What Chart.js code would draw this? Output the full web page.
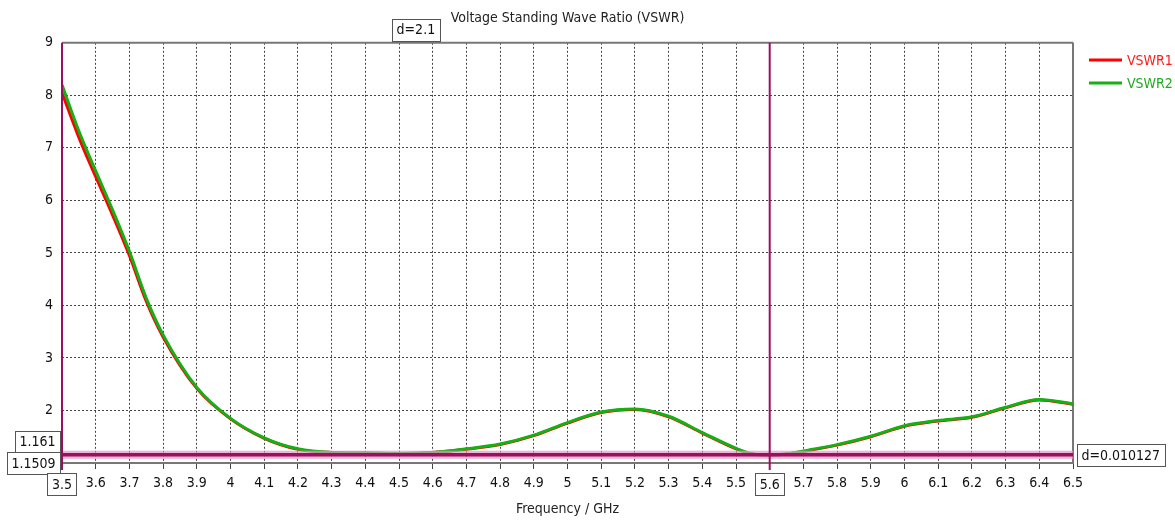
<!DOCTYPE html>
<html>
<head>
<meta charset="utf-8">
<script src="https://cdn.jsdelivr.net/npm/chart.js@4.4.0/dist/chart.umd.min.js"></script>
<style>
  html, body { margin: 0; padding: 0; background: #fff; }
  #wrap { width: 1175px; height: 522px; }
</style>
</head>
<body>
<div id="wrap"><canvas id="vswr"></canvas></div>
<script>
// ===== data =====
const freqs = [3.5, 3.55, 3.6, 3.65, 3.7, 3.75, 3.8, 3.9, 4.0, 4.1, 4.2, 4.3, 4.4, 4.5, 4.6, 4.7, 4.8, 4.9,
  5.0, 5.1, 5.2, 5.3, 5.4, 5.5, 5.55, 5.6, 5.65, 5.7, 5.8, 5.9, 6.0, 6.1, 6.2, 6.3, 6.4, 6.5];
const vswr1 = [8.05, 7.2, 6.45, 5.72, 4.95, 4.08, 3.4, 2.42, 1.84, 1.47, 1.26, 1.2, 1.19, 1.18, 1.2, 1.26, 1.35, 1.52,
  1.76, 1.96, 2.02, 1.88, 1.57, 1.27, 1.17, 1.15, 1.17, 1.22, 1.34, 1.5, 1.7, 1.8, 1.87, 2.05, 2.2, 2.12];
const vswr2 = [8.2, 7.32, 6.56, 5.82, 5.03, 4.14, 3.44, 2.44, 1.85, 1.48, 1.27, 1.2, 1.19, 1.18, 1.2, 1.27, 1.36, 1.53,
  1.77, 1.97, 2.03, 1.89, 1.58, 1.28, 1.17, 1.15, 1.17, 1.23, 1.35, 1.51, 1.71, 1.81, 1.88, 2.06, 2.21, 2.13];

const xTicks = [3.5, 3.6, 3.7, 3.8, 3.9, 4, 4.1, 4.2, 4.3, 4.4, 4.5, 4.6, 4.7, 4.8, 4.9, 5,
  5.1, 5.2, 5.3, 5.4, 5.5, 5.6, 5.7, 5.8, 5.9, 6, 6.1, 6.2, 6.3, 6.4, 6.5];
const yTicks = [1, 2, 3, 4, 5, 6, 7, 8, 9];

// markers
const markerFreqs = [3.5, 5.6];
const markerLevels = [1.161, 1.1509];
const freqDelta = "d=2.1";
const levelDelta = "d=0.010127";

const FONT = '"DejaVu Sans Condensed", "DejaVu Sans", sans-serif';
const MARK = "#9c0f5f";

function line(ctx, x1, y1, x2, y2) {
  ctx.beginPath(); ctx.moveTo(x1, y1); ctx.lineTo(x2, y2); ctx.stroke();
}
// boxed label, anchor = "left" | "right" | "center"
function box(ctx, text, x, cy, anchor) {
  ctx.font = "14px " + FONT;
  const w = ctx.measureText(text).width + 9, h = 22;
  let left = x;
  if (anchor === "right") left = x - w;
  if (anchor === "center") left = x - w / 2;
  ctx.fillStyle = "#fff";
  ctx.fillRect(left, cy - h / 2, w, h);
  ctx.strokeStyle = "#555"; ctx.lineWidth = 1; ctx.setLineDash([]);
  ctx.strokeRect(Math.round(left) + 0.5, Math.round(cy - h / 2) + 0.5, Math.round(w), h);
  ctx.fillStyle = "#111"; ctx.textAlign = "center"; ctx.textBaseline = "middle";
  ctx.fillText(text, left + w / 2, cy + 1);
}

/* ===== frame, markers, legend ===== */
const decorations = {
  id: "decorations",
  beforeDatasetsDraw(chart) {
    const { ctx, chartArea: a } = chart;
    ctx.save();
    ctx.strokeStyle = "#777"; ctx.lineWidth = 2;
    line(ctx, a.left, a.top, a.right, a.top);
    line(ctx, a.right, a.top, a.right, a.bottom);
    ctx.restore();
  },
  afterDatasetsDraw(chart) {
    const { ctx, chartArea: a, scales: { x, y } } = chart;
    ctx.save();
    // horizontal markers
    markerLevels.forEach(v => {
      const py = y.getPixelForValue(v);
      ctx.strokeStyle = "rgba(225,150,200,0.45)"; ctx.lineWidth = 8;
      line(ctx, a.left, py, a.right, py);
    });
    markerLevels.forEach(v => {
      const py = y.getPixelForValue(v);
      ctx.strokeStyle = MARK; ctx.lineWidth = 3;
      line(ctx, a.left, py, a.right, py);
    });
    // vertical markers
    markerFreqs.forEach(v => {
      const px = x.getPixelForValue(v);
      ctx.strokeStyle = MARK; ctx.lineWidth = 2;
      line(ctx, px, a.top, px, a.bottom + 7);
    });
    ctx.restore();
  },
  afterDraw(chart) {
    const { ctx, chartArea: a, scales: { x, y } } = chart;
    ctx.save();
    // marker value boxes
    box(ctx, markerLevels[0].toString(), a.left - 2, y.getPixelForValue(markerLevels[0]) - 13, "right");
    box(ctx, markerLevels[1].toString(), a.left - 2, y.getPixelForValue(markerLevels[1]) + 8, "right");
    markerFreqs.forEach(v => box(ctx, String(v), x.getPixelForValue(v), a.bottom + 21, "center"));
    const mid = (x.getPixelForValue(markerFreqs[0]) + x.getPixelForValue(markerFreqs[1])) / 2;
    box(ctx, freqDelta, mid, a.top - 13, "center");
    box(ctx, levelDelta, a.right + 4, y.getPixelForValue(markerLevels[1]), "left");

    // legend
    ctx.font = "14px " + FONT; ctx.textAlign = "left"; ctx.textBaseline = "middle";
    chart.data.datasets.forEach((ds, i) => {
      const ly = 60 + i * 23;
      ctx.strokeStyle = ds.borderColor; ctx.lineWidth = 3;
      line(ctx, a.right + 16, ly, a.right + 49, ly);
      ctx.fillStyle = ds.legendText;
      ctx.fillText(ds.label, a.right + 54, ly + 1);
    });
    ctx.restore();
  }
};

Chart.defaults.font.family = FONT;
Chart.defaults.font.size = 14;
Chart.defaults.color = "#111";

new Chart(document.getElementById("vswr"), {
  type: "line",
  data: {
    datasets: [
      {
        label: "VSWR1",
        data: freqs.map((f, i) => ({ x: f, y: vswr1[i] })),
        borderColor: "#ff0000",
        legendText: "#ff1a1a",
        borderWidth: 3,
        pointRadius: 0,
        cubicInterpolationMode: "monotone",
        order: 1
      },
      {
        label: "VSWR2",
        data: freqs.map((f, i) => ({ x: f, y: vswr2[i] })),
        borderColor: "#14b014",
        legendText: "#22a822",
        borderWidth: 3,
        pointRadius: 0,
        cubicInterpolationMode: "monotone",
        order: 0
      }
    ]
  },
  options: {
    responsive: true,
    maintainAspectRatio: false,
    animation: false,
    layout: { padding: { left: 0, right: 102, top: 0, bottom: 0 } },
    plugins: {
      legend: { display: false },
      tooltip: { enabled: false },
      title: {
        display: true,
        fullSize: false,
        text: "Voltage Standing Wave Ratio (VSWR)",
        color: "#222",
        font: { size: 14, weight: "normal" },
        padding: { top: 10, bottom: 16 }
      }
    },
    scales: {
      x: {
        type: "linear",
        min: 3.5,
        max: 6.5,
        afterBuildTicks: (axis) => { axis.ticks = xTicks.map(v => ({ value: v })); },
        afterFit: (axis) => { axis.height = 59; },
        ticks: {
          autoSkip: false,
          maxRotation: 0,
          padding: 6,
          callback: (v) => String(v)
        },
        grid: { color: "#444", lineWidth: 1, tickLength: 6 },
        border: { display: true, color: "#777", width: 2, dash: [2, 2] },
        title: {
          display: true,
          text: "Frequency / GHz",
          color: "#222",
          font: { size: 14 },
          padding: { top: 0, bottom: 4 }
        }
      },
      y: {
        min: 1,
        max: 9,
        afterBuildTicks: (axis) => { axis.ticks = yTicks.map(v => ({ value: v })); },
        afterFit: (axis) => { axis.width = 62; },
        ticks: {
          padding: 9,
          callback: (v) => (v === 1 ? "" : String(v))
        },
        grid: { color: "#444", lineWidth: 1, drawTicks: false },
        border: { display: false, dash: [2, 2] }
      }
    }
  },
  plugins: [decorations]
});
</script>
</body>
</html>
